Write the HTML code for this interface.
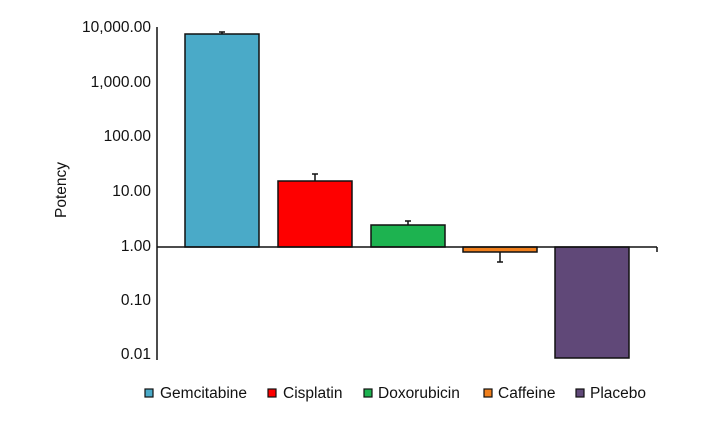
<!DOCTYPE html>
<html><head><style>body{margin:0;background:#fff}</style></head><body>
<svg width="724" height="420" xmlns="http://www.w3.org/2000/svg" font-family="Liberation Sans, sans-serif" font-size="15.5" fill="#111">
<g text-anchor="end">
<text x="151" y="32">10,000.00</text>
<text x="151" y="87">1,000.00</text>
<text x="151" y="141">100.00</text>
<text x="151" y="196">10.00</text>
<text x="151" y="251">1.00</text>
<text x="151" y="305">0.10</text>
<text x="151" y="359">0.01</text>
</g>
<text transform="translate(66,190) rotate(-90)" text-anchor="middle">Potency</text>
<g stroke="#111" stroke-width="1.5">
<rect x="185" y="34" width="74" height="213" fill="#4aaac8"/>
<rect x="278" y="181" width="74" height="66" fill="#fe0000"/>
<rect x="371" y="225" width="74" height="22" fill="#1db350"/>
<rect x="463" y="247" width="74" height="5" fill="#f07f1c"/>
<rect x="555" y="247" width="74" height="111" fill="#604878"/>
<line x1="222" y1="34" x2="222" y2="32"/><line x1="219" y1="32" x2="225" y2="32"/>
<line x1="315" y1="181" x2="315" y2="174"/><line x1="312" y1="174" x2="318" y2="174"/>
<line x1="408" y1="225" x2="408" y2="221"/><line x1="405" y1="221" x2="411" y2="221"/>
<line x1="500" y1="252" x2="500" y2="262"/><line x1="497" y1="262" x2="503" y2="262"/>
<line x1="157" y1="27" x2="157" y2="360"/>
<line x1="157" y1="247" x2="657" y2="247"/>
<line x1="657" y1="247" x2="657" y2="252"/>
</g>
<g stroke="#111" stroke-width="1.2">
<rect x="145" y="389" width="8" height="8" fill="#4aaac8"/>
<rect x="268" y="389" width="8" height="8" fill="#fe0000"/>
<rect x="364" y="389" width="8" height="8" fill="#1db350"/>
<rect x="484" y="389" width="8" height="8" fill="#f07f1c"/>
<rect x="576" y="389" width="8" height="8" fill="#604878"/>
</g>
<text x="160" y="398">Gemcitabine</text>
<text x="283" y="398">Cisplatin</text>
<text x="378" y="398">Doxorubicin</text>
<text x="498" y="398">Caffeine</text>
<text x="590" y="398">Placebo</text>
</svg>
</body></html>
